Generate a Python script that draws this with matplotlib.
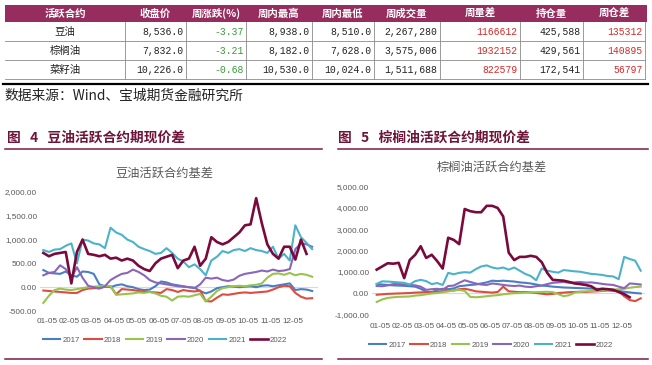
import numpy as np
import matplotlib
matplotlib.use('Agg')
import matplotlib.pyplot as plt
from matplotlib.patches import Rectangle
from matplotlib.ticker import FuncFormatter, FixedLocator

plt.rcParams['font.family'] = ['Noto Sans CJK SC', 'DejaVu Sans']

# ---------------- table data ----------------
columns = ['活跃合约', '收盘价', '周涨跌(%)', '周内最高', '周内最低', '周成交量', '周量差', '持仓量', '周仓差']
names = ['豆油', '棕榈油', '菜籽油']
close = ['8,536.0', '7,832.0', '10,226.0']
chg = ['-3.37', '-3.21', '-0.68']
high = ['8,938.0', '8,182.0', '10,530.0']
low = ['8,510.0', '7,628.0', '10,024.0']
vol = ['2,267,280', '3,575,006', '1,511,688']
vol_diff = ['1166612', '1932152', '822579']
oi = ['425,588', '429,561', '172,541']
oi_diff = ['135312', '140895', '56797']

source_text = '数据来源：Wind、宝城期货金融研究所'
heading_left = '图   4   豆油活跃合约期现价差'
heading_right = '图   5   棕榈油活跃合约期现价差'
title_left = '豆油活跃合约基差'
title_right = '棕榈油活跃合约基差'

month_labels = ['01-05', '02-05', '03-05', '04-05', '05-05', '06-05',
                '07-05', '08-05', '09-05', '10-05', '11-05', '12-05']
years = ['2017', '2018', '2019', '2020', '2021', '2022']

# ---------------- soybean oil basis (weekly readings) ----------------
soy_2017 = [360, 300, 290, 280, 330, 250, 220, 330, 320, 280,
            60, 20, 0, 40, 60, 20, 0, -40, -60, -50,
            20, 120, 100, 60, 40, 20, 0, -10, -80, -130,
            -90, -20, 0, 20, 10, 0, 10, 20, 0, 30,
            40, 20, 40, 60, 80, -60, -40, -50, -80]
soy_2018 = [-70, -80, -90, -100, -110, -120, -120, -60, -30, -20,
            -20, 10, 20, -150, -40, -50, -60, -80, -90, -100,
            -110, -120, -40, -60, -100, -60, -80, -90, -70, -290,
            -300, -220, -150, -160, -140, -120, -110, -120, -110, -100,
            -90, -50, 0, 30, 20, -120, -200, -240, -230]
soy_2019 = [-330, -180, -60, -30, -50, -60, -40, -20, 0, 10,
            20, 30, 20, -160, -150, -140, -130, -110, -120, -100,
            -130, -180, -200, -280, -200, -190, -200, -170, -140, -300,
            -200, -80, -20, 0, 20, 30, 20, 40, 50, 80,
            200, 280, 290, 260, 300, 250, 280, 260, 220]
soy_2020 = [250, 300, 320, 460, 380, 200, 420, 200, 30, 0,
            -30, 20, 150, 220, 280, 300, 370, 320, 250, 150,
            100, 80, 60, 40, 20, 10, 0, -20, 60, 200,
            180, 200, 150, 130, 160, 240, 280, 300, 320, 350,
            330, 370, 340, 350, 380, 800, 920, 900, 850]
soy_2021 = [780, 740, 790, 800, 870, 920, 500, 1000, 980, 920,
            900, 820, 1250, 1150, 1100, 1000, 950, 850, 800, 760,
            700, 720, 820, 720, 600, 540, 420, 480, 380, 250,
            560, 640, 760, 720, 780, 800, 760, 820, 780, 760,
            720, 850, 600, 700, 560, 1300, 1050, 930, 800]
soy_2022 = [720, 650, 700, 720, 740, 80, 740, 1000, 700, 680,
            650, 680, 600, 620, 560, 600, 560, 450, 380, 340,
            500, 600, 640, 680, 400, 560, 600, 850, 450, 600,
            1050, 950, 900, 950, 1050, 1150, 1300, 1320, 1870, 1350,
            900, 700, 600, 850, 850, 580, 1000, 700]

# ---------------- palm oil basis (weekly readings) ----------------
palm_2017 = [420, 400, 380, 360, 350, 340, 320, 300, 200, 60,
             30, 150, 200, 180, 220, 320, 350, 380, 400, 450,
             500, 580, 560, 580, 560, 540, 500, 480, 450, 400,
             350, 330, 300, 280, 260, 250, 240, 230, 220, 210,
             200, 190, 170, 150, 100, 60, 30, 0, -20]
palm_2018 = [-80, -60, -40, -30, -20, -10, 0, 20, 30, 40,
             50, 60, 80, 100, 120, 180, 200, 150, 80, 60,
             40, 20, 50, 300, 80, 60, 40, 50, 30, 0,
             -30, -60, -40, 0, 20, 40, 50, 60, 50, 70,
             80, 100, 120, 100, 80, -150, -330, -380, -250]
palm_2019 = [-420, -300, -230, -200, -180, -170, -160, -120, -100, -60,
             -20, 0, 40, 80, 120, 150, 100, -180, -200, -180,
             -150, -120, -100, -60, -30, -10, 0, 20, 30, 40,
             50, 60, 40, -50, -150, -100, 20, 60, 80, 90,
             100, 120, 150, 160, 180, 200, 250, 280, 300]
palm_2020 = [330, 320, 360, 420, 430, 400, 380, 360, 300, 150,
             180, 200, 150, 330, 350, 480, 600, 520, 450, 400,
             380, 450, 420, 380, 350, 330, 350, 300, 280, 320,
             350, 420, 480, 500, 520, 480, 500, 520, 490, 500,
             470, 430, 400, 380, 300, 230, 450, 430, 400]
palm_2021 = [430, 550, 540, 520, 500, 480, 400, 560, 620, 560,
             420, 470, 380, 950, 880, 950, 980, 960, 1120, 1250,
             1300, 1200, 1150, 1200, 1100, 1200, 1050, 900, 800, 600,
             1150, 1050, 1000, 960, 1080, 1050, 1020, 1000, 950, 900,
             880, 850, 800, 780, 650, 1700, 1600, 1520, 1050]
palm_2022 = [1100, 1250, 1400, 1380, 1420, 700, 1550, 1800, 2200, 1650,
             1800, 1500, 1150, 2600, 2500, 2300, 3950, 3850, 3800, 3800,
             4100, 4100, 4000, 3600, 1900, 1550, 1700, 1700, 1750, 1700,
             1450, 950, 620, 600, 580, 520, 450, 420, 380, 320,
             150, 200, 180, 150, 50, -50, -200]

colors = ['#4a7ec4', '#dc4c40', '#98c44e', '#8a66b8', '#4cb2cb', '#7a0a3c']
widths = [1.5, 1.5, 1.5, 1.5, 1.5, 1.9]

# ---------------- figure ----------------
W, H = 652, 365
fig = plt.figure(figsize=(W / 100, H / 100), dpi=100)
bg = fig.add_axes([0, 0, 1, 1])
bg.set_xlim(0, W)
bg.set_ylim(H, 0)
bg.axis('off')

# table
col_edges = [5, 125, 186, 246, 312, 374, 440, 520, 583, 645]
row_edges = [5, 22, 41, 60, 79]
bg.add_patch(Rectangle((5, 5), 642, 17, facecolor='#962d5e', lw=0))
for i, h in enumerate(columns):
    cx = (col_edges[i] + col_edges[i + 1]) / 2
    bg.text(cx, 13.8, h, color='white', fontsize=7.5, fontweight='bold',
            ha='center', va='center')

table_cols = [close, chg, high, low, vol, vol_diff, oi, oi_diff]
col_colors = ['#222222', '#3a9a3a', '#222222', '#222222', '#222222',
              '#d42a2a', '#222222', '#d42a2a']
mono = ['Liberation Mono', 'DejaVu Sans Mono']
for r in range(3):
    cy = (row_edges[r + 1] + row_edges[r + 2]) / 2 + 0.5
    bg.text((col_edges[0] + col_edges[1]) / 2, cy, names[r], fontsize=7.5,
            ha='center', va='center', color='#222222')
    for c, vals in enumerate(table_cols):
        bg.text(col_edges[c + 2] - 2.5, cy, vals[r], fontsize=7, family=mono,
                ha='right', va='center', color=col_colors[c])
for y in row_edges[2:]:
    bg.plot([5, 645], [y, y], color='#8a8a8a', lw=0.6)
for x in col_edges[1:]:
    bg.plot([x, x], [row_edges[1], row_edges[-1]], color='#8a8a8a', lw=0.6)
bg.plot([3, 648], [84, 84], color='black', lw=1.6)

bg.text(5, 96, source_text, fontsize=9.9, va='center', color='#222222')

maroon = '#6e1438'
bg.text(7, 138, heading_left, fontsize=9.9, fontweight='bold', color=maroon, va='center')
bg.text(338, 138, heading_right, fontsize=9.9, fontweight='bold', color=maroon, va='center')
bg.plot([5, 322], [149, 149], color='#7b1a45', lw=1.1)
bg.plot([338, 648], [149, 149], color='#7b1a45', lw=1.1)
bg.plot([5, 322], [359, 359], color='#7b1a45', lw=1.1)
bg.plot([338, 648], [359, 359], color='#7b1a45', lw=1.1)

narrow = ['Liberation Sans Narrow', 'Liberation Sans', 'DejaVu Sans']
gray = '#595959'


def draw_chart(px_left, px_right, px_top, px_bottom, m0, mstep, series,
               ylim, ystep, title, title_xy, legend_xy, xpad):
    ax = fig.add_axes([px_left / W, 1 - px_bottom / H,
                       (px_right - px_left) / W, (px_bottom - px_top) / H])
    ax.set_facecolor('none')
    xl = ((px_left - m0) / mstep, (px_right - m0) / mstep)
    for lab, vals, col, lw in zip(years, series, colors, widths):
        xs = -0.15 + 0.25 * np.arange(len(vals))
        ax.plot(xs, vals, color=col, lw=lw, label=lab, solid_joinstyle='round')
    ax.axhline(0, color='#d9d9d9', lw=0.8, zorder=0)
    ax.set_xlim(*xl)
    ax.set_ylim(*ylim)
    ax.yaxis.set_major_locator(FixedLocator(np.arange(ylim[0], ylim[1] + 1, ystep)))
    ax.yaxis.set_major_formatter(FuncFormatter(lambda v, p: f'{v:,.2f}'))
    ax.set_xticks(np.arange(len(month_labels)))
    ax.set_xticklabels(month_labels)
    for s in ax.spines.values():
        s.set_visible(False)
    ax.tick_params(axis='both', length=0, labelsize=5.9, labelcolor=gray)
    ax.tick_params(axis='x', pad=xpad)
    ax.tick_params(axis='y', pad=2)
    for t in ax.get_xticklabels() + ax.get_yticklabels():
        t.set_family(narrow)
    bg.text(title_xy[0], title_xy[1], title, fontsize=8.8, color=gray,
            ha='center', va='center')
    leg = ax.legend(loc='center', bbox_to_anchor=(legend_xy[0] / W, 1 - legend_xy[1] / H),
                    bbox_transform=fig.transFigure, ncol=6, frameon=False,
                    prop={'family': narrow, 'size': 5.7}, handlelength=2.2,
                    handletextpad=0.3, columnspacing=0.55)
    for t in leg.get_texts():
        t.set_color(gray)
    return ax


draw_chart(40, 318, 192, 311, 46.7, 22.4,
           [soy_2017, soy_2018, soy_2019, soy_2020, soy_2021, soy_2022],
           (-500, 2000), 500, title_left, (164, 173), (165, 340), 5)
draw_chart(372, 645, 186.7, 314.3, 380, 22.0,
           [palm_2017, palm_2018, palm_2019, palm_2020, palm_2021, palm_2022],
           (-1000, 5000), 1000, title_right, (492, 167), (491, 345), 6)

fig.savefig('out.png', dpi=100)
